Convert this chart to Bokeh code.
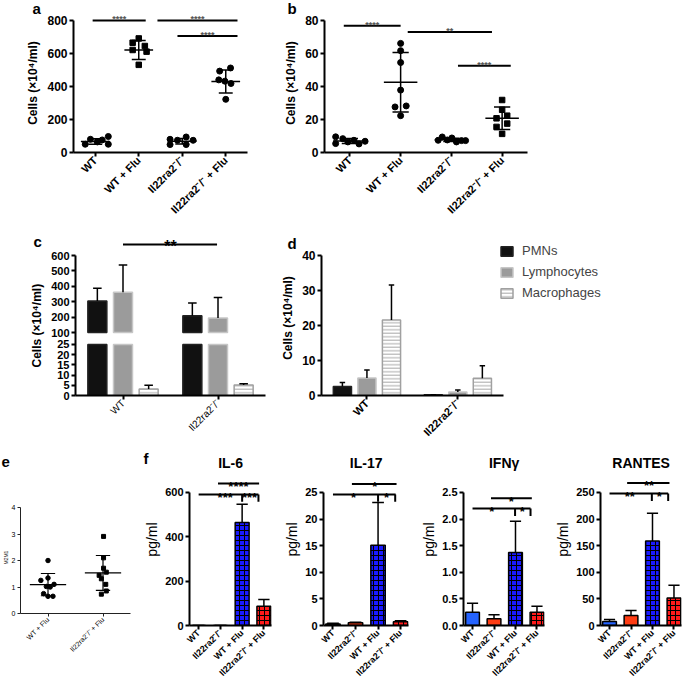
import numpy as np
from bokeh.plotting import figure
from bokeh.models import (Label, Range1d, FixedTicker, Legend, LegendItem,
                          NumeralTickFormatter, Title)
from bokeh.layouts import row, column
from bokeh.embed import file_html
from bokeh.resources import INLINE

FONT = "Liberation Sans"
KO = "Il22ra2\u207b/\u207b"
CELLS = "Cells (\u00d710\u2074/ml)"

# ---------------- data ----------------
groups4 = ["WT", "WT + Flu", KO, KO + " + Flu"]

# panel a : BAL cells (x10^4/ml)
a_wt = [50, 80, 64, 76, 97, 50]
a_wt_dx = [-0.23, -0.11, 0.05, 0.16, 0.30, 0.30]
a_wtflu = [691, 665, 645, 621, 611, 531]
a_wtflu_dx = [0.0, -0.14, 0.14, -0.14, 0.18, 0.0]
a_ko = [80, 74, 94, 74, 48, 48]
a_ko_dx = [-0.28, -0.11, 0.09, 0.25, -0.28, 0.09]
a_koflu = [493, 512, 440, 432, 418, 322]
a_koflu_dx = [-0.14, 0.11, -0.16, -0.02, 0.12, 0.0]
a_mean = [67, 621, 68, 430]
a_sd = [17, 57, 17, 70]

# panel b
b_wt = [9.5, 5.4, 8.4, 6.4, 7.4, 5.2, 6.8]
b_wt_dx = [-0.28, -0.28, -0.14, -0.04, 0.08, 0.18, 0.30]
b_wtflu = [66.1, 61.7, 54.5, 37.8, 28.2, 27.6, 22.3]
b_wtflu_dx = [0, 0, 0, 0, 0.11, -0.11, 0]
b_ko = [7.4, 9.4, 7.6, 8.8, 6.4, 7.2, 7.2]
b_ko_dx = [-0.26, -0.18, -0.08, 0.01, 0.10, 0.20, 0.28]
b_koflu = [31.8, 25.9, 22.3, 20.7, 17.5, 15.5, 11.3]
b_koflu_dx = [0, 0, 0.10, -0.11, 0.10, -0.11, 0]
b_mean = [7.0, 42.6, 7.7, 20.7]
b_sd = [1.5, 18.0, 1.0, 6.8]

# panel c / d : cell types
groups2 = ["WT", KO]
cell_types = ["PMNs", "Lymphocytes", "Macrophages"]
c_pmn = [304, 209]
c_pmn_err = [83, 82]
c_lym = [361, 194]
c_lym_err = [178, 134]
c_mac = [3.2, 5.2]
c_mac_err = [1.8, 0.5]
c_low_ticks = [0, 5, 10, 15, 20, 25]
c_high_ticks = [100, 200, 300, 400, 500, 600]
d_pmn = [2.6, 0.2]
d_pmn_err = [1.1, 0.0]
d_lym = [5.0, 1.0]
d_lym_err = [2.3, 0.6]
d_mac = [21.6, 4.9]
d_mac_err = [10.0, 3.6]

# panel e : M2/M1
e_groups = ["WT + Flu", KO + " + Flu"]
e_wtflu = [2.0, 1.25, 1.34, 1.02, 1.0, 1.1, 0.75, 0.65, 0.65]
e_wtflu_dx = [0, -0.13, 0, -0.03, 0.04, 0.11, -0.08, 0, 0.09]
e_koflu = [2.91, 2.1, 1.71, 1.44, 1.56, 1.31, 1.1, 0.73, 0.85]
e_koflu_dx = [0.01, 0.01, 0.01, -0.07, 0.06, -0.03, 0.05, -0.03, 0.06]
e_mean = [1.09, 1.53]
e_sd = [0.42, 0.66]

# panel f : cytokines (pg/ml)
f_groups = ["WT", KO, "WT + Flu", KO + " + Flu"]
il6 = [0, 0, 465, 87]
il6_err = [0, 0, 82, 30]
il17 = [0.3, 0.5, 15.1, 0.7]
il17_err = [0.1, 0.1, 8.0, 0.2]
ifng = [0.25, 0.126, 1.37, 0.25]
ifng_err = [0.17, 0.074, 0.59, 0.11]
rantes = [7.6, 18.9, 159, 51.6]
rantes_err = [3.7, 9.4, 52, 24]

# ---------------- helpers ----------------
def make_fig(w, h, l, r, t, b, xr, yr):
    p = figure(width=w, height=h, x_range=Range1d(*xr), y_range=Range1d(*yr),
               output_backend="svg", toolbar_location=None,
               min_border_left=l, min_border_right=r, min_border_top=t, min_border_bottom=b)
    p.title.visible = False
    p.outline_line_color = None
    p.xgrid.visible = False
    p.ygrid.visible = False
    p.background_fill_color = "white"
    p.border_fill_color = "white"
    return p


def set_letter(p, txt, offset, standoff):
    p.title.visible = True
    p.title.text = txt
    p.title.align = "left"
    p.title.offset = offset
    p.title.standoff = standoff
    p.title.vertical_align = "bottom"
    p.title.text_font = FONT
    p.title.text_font_size = "15px"
    p.title.text_font_style = "bold"
    p.title.text_color = "black"


def style_axis(ax, size, bold=True, lw=2, tick_out=4, color="black"):
    ax.axis_line_width = lw
    ax.axis_line_color = color
    ax.major_tick_line_width = lw
    ax.major_tick_line_color = color
    ax.major_tick_in = 0
    ax.major_tick_out = tick_out
    ax.minor_tick_line_color = None
    ax.major_label_text_font = FONT
    ax.major_label_text_font_size = size
    ax.major_label_text_font_style = "bold" if bold else "normal"
    ax.major_label_text_color = "black"
    ax.major_label_standoff = 2
    ax.axis_label_text_font = FONT
    ax.axis_label_text_color = "black"


def setup_axes(p, xlabels, xbounds, yticks, ybounds, xsize, ysize, xbold=True, ybold=True,
               lw=2, tick_out=4, color="black"):
    xa = p.xaxis[0]
    ya = p.yaxis[0]
    style_axis(xa, xsize, xbold, lw, tick_out, color)
    style_axis(ya, ysize, ybold, lw, tick_out, color)
    xa.ticker = FixedTicker(ticks=list(range(len(xlabels))), minor_ticks=[])
    xa.major_label_overrides = {i: s for i, s in enumerate(xlabels)}
    xa.major_label_orientation = np.pi / 4
    xa.bounds = xbounds
    ya.ticker = FixedTicker(ticks=yticks, minor_ticks=[])
    ya.bounds = ybounds


def add_text(p, x, y, txt, size, style="bold", color="black", xu="data", yu="data",
             align="center", baseline="alphabetic", yoff=0, yrn="default"):
    p.add_layout(Label(x=x, y=y, x_units=xu, y_units=yu, text=txt, text_font=FONT,
                       text_font_size=size, text_font_style=style, text_color=color,
                       text_align=align, text_baseline=baseline, y_offset=yoff,
                       y_range_name=yrn))


def dots(p, xc, vals, dx, marker, size):
    p.scatter([xc + d for d in dx], vals, marker=marker, size=size, color="black")


def mean_sd(p, xs, means, sds, hm, hc, lw):
    for x, m, s in zip(xs, means, sds):
        p.segment([x - hm], [m], [x + hm], [m], line_width=lw, line_color="black")
        p.segment([x], [m - s], [x], [m + s], line_width=lw, line_color="black")
        p.segment([x - hc, x - hc], [m - s, m + s], [x + hc, x + hc], [m - s, m + s],
                  line_width=lw, line_color="black")


def sig_line(p, x0, x1, y, lw=2, yrn="default"):
    p.segment([x0], [y], [x1], [y], line_width=lw, line_color="black", y_range_name=yrn)


def err_up(p, xs, vals, errs, hc, lw=1.5, yrn="default"):
    tops = [v + e for v, e in zip(vals, errs)]
    p.segment(xs, vals, xs, tops, line_width=lw, line_color="black", y_range_name=yrn)
    p.segment([x - hc for x in xs], tops, [x + hc for x in xs], tops, line_width=lw,
              line_color="black", y_range_name=yrn)


def y_label(p, size="12px", standoff=4):
    p.yaxis[0].axis_label = CELLS
    p.yaxis[0].axis_label_text_font_size = size
    p.yaxis[0].axis_label_text_font_style = "bold"
    p.yaxis[0].axis_label_standoff = standoff


# ---------------- panel a ----------------
pa = make_fig(273, 222, 73, 26, 13, 68, (-0.5, 3.5), (0, 842))
setup_axes(pa, groups4, (-0.5, 3.5), [0, 200, 400, 600, 800], (0, 800), "11px", "12px")
y_label(pa)
dots(pa, 0, a_wt, a_wt_dx, "circle", 6)
dots(pa, 1, a_wtflu, a_wtflu_dx, "square", 5.5)
dots(pa, 2, a_ko, a_ko_dx, "circle", 6)
dots(pa, 3, a_koflu, a_koflu_dx, "circle", 6)
mean_sd(pa, [0, 1, 2, 3], a_mean, a_sd, 0.33, 0.16, 1.5)
for x0, x1, y in [(-0.06, 1.16, 800), (1.43, 3.27, 800), (1.89, 3.27, 705)]:
    sig_line(pa, x0, x1, y)
    add_text(pa, (x0 + x1) / 2, y, "****", "9px", color="#555555", yoff=1)
set_letter(pa, "a", -41, -7)

# ---------------- panel b ----------------
pb = make_fig(274, 222, 51, 20, 13, 68, (-0.5, 3.5), (0, 84.2))
setup_axes(pb, groups4, (-0.5, 3.5), [0, 20, 40, 60, 80], (0, 80), "11px", "12px")
y_label(pb)
dots(pb, 0, b_wt, b_wt_dx, "circle", 6)
dots(pb, 1, b_wtflu, b_wtflu_dx, "circle", 6)
dots(pb, 2, b_ko, b_ko_dx, "circle", 6)
dots(pb, 3, b_koflu, b_koflu_dx, "square", 5.5)
mean_sd(pb, [0, 1, 2, 3], b_mean, b_sd, 0.33, 0.16, 1.5)
for x0, x1, y, t in [(-0.12, 1.0, 76.8, "****"), (1.14, 2.8, 73, "**"), (2.13, 3.17, 52.5, "****")]:
    sig_line(pb, x0, x1, y)
    add_text(pb, (x0 + x1) / 2, y, t, "9px", color="#555555", yoff=1)
set_letter(pb, "b", -37, -7)

# ---------------- panel c (broken axis: two y ranges in one frame) ----------------
OFF = [-0.27, 0.0, 0.27]
BW = 0.2
PMN_STYLE = dict(fill_color="#111111", line_color="#222222", line_width=1.5)
LYM_STYLE = dict(fill_color="#9b9b9b", line_color="#c6c6c6", line_width=1.5)
MAC_STYLE = dict(fill_color="white", line_color="#a0a0a0", line_width=1.5,
                 hatch_pattern="horizontal_line", hatch_color="#a8a8a8", hatch_scale=3.5,
                 hatch_weight=1)
xs2 = [0, 1]
lo = c_low_ticks[-1]
hi = c_high_ticks[0]
LOW_RANGE = (0, 79.9)          # lower segment scale (0-25 occupies the bottom of the frame)
HIGH_RANGE = (-309.1, 749.4)   # upper segment scale (100-600 occupies the upper part)


def high_to_low(v):
    # position of an upper-segment value expressed on the lower range (same frame)
    return LOW_RANGE[0] + (v - HIGH_RANGE[0]) / (HIGH_RANGE[1] - HIGH_RANGE[0]) * (LOW_RANGE[1] - LOW_RANGE[0])


pc = make_fig(275, 225, 75, 10, 10, 52, (-0.5, 1.5), LOW_RANGE)
pc.extra_y_ranges = {"top": Range1d(*HIGH_RANGE)}
tick_pos = c_low_ticks + [high_to_low(v) for v in c_high_ticks]
setup_axes(pc, groups2, (-0.5, 1.5), tick_pos, (0, high_to_low(c_high_ticks[-1])),
           "10px", "11px", xbold=False)
pc.yaxis[0].major_label_overrides = {pos: str(v) for pos, v in
                                     zip(tick_pos, c_low_ticks + c_high_ticks)}
pc.add_layout(Title(text=CELLS, align="left", offset=28, standoff=10,
                    vertical_align="bottom", text_font=FONT, text_font_size="12px",
                    text_font_style="bold", text_color="black"), "left")
# lower segment (0-25)
pc.vbar(x=[x + OFF[0] for x in xs2], top=[min(v, lo) for v in c_pmn], width=BW, bottom=0, **PMN_STYLE)
pc.vbar(x=[x + OFF[1] for x in xs2], top=[min(v, lo) for v in c_lym], width=BW, bottom=0, **LYM_STYLE)
pc.vbar(x=[x + OFF[2] for x in xs2], top=c_mac, width=BW, bottom=0, **MAC_STYLE)
err_up(pc, [x + OFF[2] for x in xs2], c_mac, c_mac_err, 0.045)
# upper segment (100-600)
pc.vbar(x=[x + OFF[0] for x in xs2], top=c_pmn, width=BW, bottom=hi, y_range_name="top", **PMN_STYLE)
pc.vbar(x=[x + OFF[1] for x in xs2], top=c_lym, width=BW, bottom=hi, y_range_name="top", **LYM_STYLE)
err_up(pc, [x + OFF[0] for x in xs2], c_pmn, c_pmn_err, 0.045, yrn="top")
err_up(pc, [x + OFF[1] for x in xs2], c_lym, c_lym_err, 0.045, yrn="top")
sig_line(pc, 0.0, 0.99, 672, yrn="top")
add_text(pc, 0.5, 672, "**", "16px", yoff=-2, yrn="top")
set_letter(pc, "c", -42, -34)

# ---------------- panel d ----------------
pd_ = make_fig(360, 225, 46, 5, 18, 52, (-0.5, 2.9), (0, 44.3))
setup_axes(pd_, groups2, (-0.5, 1.5), [0, 10, 20, 30, 40], (0, 40), "11px", "12px")
y_label(pd_)
r1 = pd_.vbar(x=[x + OFF[0] for x in xs2], top=d_pmn, width=BW, **PMN_STYLE)
r2 = pd_.vbar(x=[x + OFF[1] for x in xs2], top=d_lym, width=BW, **LYM_STYLE)
r3 = pd_.vbar(x=[x + OFF[2] for x in xs2], top=d_mac, width=BW, **MAC_STYLE)
err_up(pd_, [x + OFF[0] for x in xs2], d_pmn, d_pmn_err, 0.03)
err_up(pd_, [x + OFF[1] for x in xs2], d_lym, d_lym_err, 0.03)
err_up(pd_, [x + OFF[2] for x in xs2], d_mac, d_mac_err, 0.03)
leg = Legend(items=[LegendItem(label=cell_types[i], renderers=[r]) for i, r in enumerate([r1, r2, r3])],
             location=(178, 95))
leg.padding = 0
leg.margin = 0
leg.spacing = 6
leg.glyph_width = 15
leg.glyph_height = 12
leg.label_height = 12
leg.label_standoff = 8
leg.label_text_font = FONT
leg.label_text_font_size = "13px"
leg.border_line_color = None
leg.background_fill_alpha = 0
pd_.add_layout(leg)
set_letter(pd_, "d", -34, -22)

# ---------------- panel e ----------------
pe = make_fig(141, 241, 20, 11, 6, 75, (-0.5, 1.5), (0, 6.04))
setup_axes(pe, e_groups, (-0.5, 1.5), [0, 1, 2, 3, 4], (0, 4), "7px", "7px", xbold=False,
           ybold=False, lw=1, tick_out=3, color="#222222")
pe.add_layout(Title(text="M2M1", align="left", offset=49, standoff=0, vertical_align="bottom",
                    text_font=FONT, text_font_size="5px", text_font_style="normal",
                    text_color="#222222"), "left")
dots(pe, 0, e_wtflu, e_wtflu_dx, "circle", 4.5)
dots(pe, 1, e_koflu, e_koflu_dx, "square", 4)
mean_sd(pe, [0, 1], e_mean, e_sd, 0.33, 0.13, 1.2)
set_letter(pe, "e", -19, -26)

# ---------------- panel f ----------------
BLUE_S, RED_S = "#2563ff", "#ff3d14"
BLUE_H, RED_H = "#1a1aff", "#ff1a1a"
F_TOP = 1.293


def f_panel(title, vals, errs, ymax, yticks, w, left, right, lower, upper, texts, fmt=None):
    p = make_fig(w, 241, left, right, 6, 63, (-0.42, 3.35), (0, ymax * F_TOP))
    setup_axes(p, f_groups, (-0.42, 3.35), yticks, (0, ymax), "9px", "11px")
    if fmt:
        p.yaxis.formatter = NumeralTickFormatter(format=fmt)
    p.yaxis.axis_label = "pg/ml"
    p.yaxis.axis_label_text_font_size = "14px"
    p.yaxis.axis_label_text_font_style = "normal"
    p.yaxis.axis_label_standoff = 2
    p.vbar(x=[0, 1], top=vals[:2], width=0.64, fill_color=[BLUE_S, RED_S],
           line_color="black", line_width=1.5)
    p.vbar(x=[2, 3], top=vals[2:], width=0.64, fill_color=[BLUE_H, RED_H],
           line_color="black", line_width=1.5, hatch_pattern="cross", hatch_color="black",
           hatch_scale=5, hatch_weight=1)
    err_up(p, [0, 1, 2, 3], vals, errs, 0.26)
    lx0, lx1, ly, ticks, ybot = lower
    sig_line(p, lx0, lx1, ly)
    for tx in ticks:
        p.segment([tx], [ly], [tx], [ybot], line_width=2, line_color="black")
    ux0, ux1, uy = upper
    sig_line(p, ux0, ux1, uy)
    for tx, ty, t in texts:
        add_text(p, tx, ty, t, "13px", yoff=-3)
    add_text(p, 1.47, 163, title, "14px", yu="screen", baseline="middle")
    return p


f1 = f_panel("IL-6", il6, il6_err, 600, [0, 200, 400, 600], 139, 45, 9,
             (0.0, 2.75, 591, [2.0, 2.75], 558), (0.89, 2.78, 640),
             [(1.83, 640, "****"), (1.22, 591, "***"), (2.34, 591, "***")])
f2 = f_panel("IL-17", il17, il17_err, 25, [0, 5, 10, 15, 20, 25], 138, 43, 10,
             (0.0, 2.78, 24.6, [2.0, 2.76], 23.25), (0.84, 2.82, 26.6),
             [(1.85, 26.6, "*"), (0.91, 24.6, "*"), (2.38, 24.6, "*")])
f3 = f_panel("IFN\u03b3", ifng, ifng_err, 2.5, [0, 0.5, 1.0, 1.5, 2.0, 2.5], 134, 41, 8,
             (0.0, 2.7, 2.2, [1.98, 2.7], 2.06), (0.86, 2.76, 2.39),
             [(1.8, 2.39, "*"), (0.9, 2.2, "*"), (2.32, 2.2, "*")], fmt="0.0")
f4 = f_panel("RANTES", rantes, rantes_err, 250, [0, 50, 100, 150, 200, 250], 131, 44, 2,
             (0.0, 2.73, 248, [1.97, 2.73], 234), (0.82, 2.79, 268),
             [(1.84, 268, "**"), (0.94, 248, "**"), (2.32, 248, "*")])
set_letter(f1, "f", -46, -26)

layout = column(
    row(column(pa), column(pb)),
    row(column(pc), column(pd_)),
    row(column(pe), column(f1), column(f2), column(f3), column(f4)),
)

with open("out.html", "w") as fh:
    fh.write(file_html(layout, INLINE))
